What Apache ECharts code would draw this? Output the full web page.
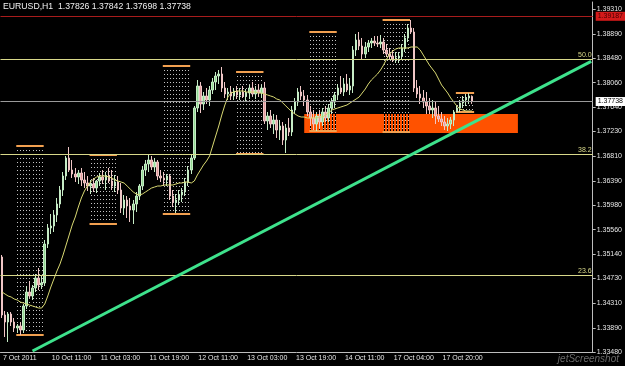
<!DOCTYPE html>
<html>
<head>
<meta charset="utf-8">
<script src="https://cdn.jsdelivr.net/npm/echarts@6/dist/echarts.min.js"></script>
<style>
  html, body { margin: 0; padding: 0; background: #000; }
  #chart { width: 625px; height: 366px; }
</style>
</head>
<body>
<div id="chart"></div>
<script>
const title = "EURUSD,H1  1.37826 1.37842 1.37698 1.37738";

// hourly bars, each [open, close, low, high]
const bars = [
  [1.35095,1.34109,1.34058,1.35129],[1.34109,1.33990,1.33735,1.34177],[1.33990,1.34126,1.33650,1.34160],
  [1.34126,1.33990,1.33922,1.34160],[1.33990,1.33888,1.33820,1.34058],[1.33888,1.33922,1.33803,1.33956],
  [1.33922,1.33854,1.33769,1.33990],[1.33854,1.34262,1.33803,1.34296],[1.34262,1.34500,1.34211,1.34602],
  [1.34500,1.34432,1.34398,1.34687],[1.34432,1.34568,1.34364,1.34619],[1.34568,1.34738,1.34500,1.34806],
  [1.34738,1.34619,1.34534,1.34908],[1.34619,1.34653,1.34551,1.34772],[1.34653,1.35316,1.34602,1.35384],
  [1.35316,1.35588,1.35248,1.35656],[1.35588,1.35622,1.35486,1.35826],[1.35622,1.35809,1.35520,1.35894],
  [1.35809,1.35996,1.35690,1.36098],[1.35996,1.36234,1.35928,1.36302],[1.36234,1.36472,1.36132,1.36540],
  [1.36472,1.36778,1.36404,1.36812],[1.36778,1.36574,1.36540,1.36965],[1.36574,1.36506,1.36438,1.36744],
  [1.36506,1.36455,1.36370,1.36608],[1.36455,1.36523,1.36336,1.36574],[1.36523,1.36404,1.36302,1.36608],
  [1.36404,1.36353,1.36268,1.36540],[1.36353,1.36302,1.36217,1.36472],[1.36302,1.36336,1.36166,1.36404],
  [1.36336,1.36268,1.36200,1.36438],[1.36268,1.36387,1.36183,1.36404],[1.36387,1.36455,1.36302,1.36523],
  [1.36455,1.36404,1.36336,1.36574],[1.36404,1.36472,1.36234,1.36540],[1.36472,1.36387,1.36353,1.36608],
  [1.36387,1.36302,1.36234,1.36574],[1.36302,1.36370,1.36200,1.36489],[1.36370,1.36234,1.36166,1.36472],
  [1.36234,1.35928,1.35843,1.36353],[1.35928,1.36064,1.35809,1.36149],[1.36064,1.35962,1.35758,1.36132],
  [1.35962,1.35894,1.35690,1.36098],[1.35894,1.35996,1.35656,1.36064],[1.35996,1.36132,1.35860,1.36200],
  [1.36132,1.36302,1.36064,1.36336],[1.36302,1.36574,1.36234,1.36642],[1.36574,1.36676,1.36472,1.36744],
  [1.36676,1.36744,1.36540,1.36829],[1.36744,1.36625,1.36574,1.36812],[1.36625,1.36710,1.36540,1.36778],
  [1.36710,1.36472,1.36404,1.36744],[1.36472,1.36438,1.36370,1.36574],[1.36438,1.36404,1.36302,1.36540],
  [1.36404,1.36472,1.36302,1.36506],[1.36472,1.36132,1.36064,1.36506],[1.36132,1.36030,1.35945,1.36234],
  [1.36030,1.36064,1.35843,1.36166],[1.36064,1.36149,1.35979,1.36234],[1.36149,1.36200,1.36030,1.36268],
  [1.36200,1.36370,1.36132,1.36438],[1.36370,1.36574,1.36302,1.36642],[1.36574,1.36778,1.36506,1.36829],
  [1.36778,1.37628,1.36744,1.37662],[1.37628,1.38002,1.37560,1.38104],[1.38002,1.37696,1.37543,1.38070],
  [1.37696,1.37832,1.37594,1.37900],[1.37832,1.37764,1.37696,1.37968],[1.37764,1.37934,1.37662,1.38002],
  [1.37934,1.38070,1.37866,1.38138],[1.38070,1.38172,1.37934,1.38240],[1.38172,1.38206,1.38036,1.38274],
  [1.38206,1.37968,1.37900,1.38325],[1.37968,1.37866,1.37798,1.38070],[1.37866,1.37900,1.37764,1.37968],
  [1.37900,1.37832,1.37764,1.38002],[1.37832,1.37917,1.37764,1.37968],[1.37917,1.37849,1.37781,1.38002],
  [1.37849,1.37900,1.37764,1.37968],[1.37900,1.37832,1.37798,1.38002],[1.37832,1.37883,1.37747,1.37951],
  [1.37883,1.37968,1.37781,1.38019],[1.37968,1.37866,1.37832,1.38070],[1.37866,1.37934,1.37781,1.38002],
  [1.37934,1.37883,1.37815,1.38036],[1.37883,1.37968,1.37798,1.38019],[1.37968,1.37407,1.37356,1.38070],
  [1.37407,1.37492,1.37254,1.37560],[1.37492,1.37356,1.37288,1.37594],[1.37356,1.37424,1.37186,1.37526],
  [1.37424,1.37254,1.37118,1.37509],[1.37254,1.37322,1.37084,1.37424],[1.37322,1.37084,1.36999,1.37390],
  [1.37084,1.37288,1.36863,1.37356],[1.37288,1.37220,1.37152,1.37458],[1.37220,1.37594,1.37152,1.37662],
  [1.37594,1.37730,1.37526,1.37798],[1.37730,1.37900,1.37662,1.37968],[1.37900,1.37832,1.37764,1.38002],
  [1.37832,1.37764,1.37662,1.37934],[1.37764,1.37560,1.37492,1.37849],[1.37560,1.37458,1.37322,1.37662],
  [1.37458,1.37356,1.37254,1.37594],[1.37356,1.37492,1.37237,1.37560],[1.37492,1.37390,1.37288,1.37594],
  [1.37390,1.37560,1.37322,1.37628],[1.37560,1.37458,1.37390,1.37662],[1.37458,1.37628,1.37390,1.37696],
  [1.37628,1.37730,1.37526,1.37798],[1.37730,1.37849,1.37628,1.37900],[1.37849,1.37968,1.37764,1.38036],
  [1.37968,1.37900,1.37866,1.38172],[1.37900,1.38036,1.37832,1.38138],[1.38036,1.37934,1.37900,1.38206],
  [1.37934,1.38002,1.37849,1.38138],[1.38002,1.38614,1.37883,1.38682],[1.38614,1.38784,1.38512,1.38886],
  [1.38784,1.38682,1.38614,1.38920],[1.38682,1.38546,1.38444,1.38818],[1.38546,1.38665,1.38478,1.38750],
  [1.38665,1.38733,1.38580,1.38784],[1.38733,1.38767,1.38648,1.38818],[1.38767,1.38733,1.38682,1.38852],
  [1.38733,1.38716,1.38665,1.38852],[1.38716,1.38750,1.38648,1.38869],[1.38750,1.38614,1.38546,1.38818],
  [1.38614,1.38546,1.38495,1.38716],[1.38546,1.38512,1.38444,1.38648],[1.38512,1.38461,1.38410,1.38614],
  [1.38461,1.38478,1.38393,1.38580],[1.38478,1.38512,1.38393,1.38580],[1.38512,1.38648,1.38444,1.38716],
  [1.38648,1.38818,1.38580,1.38886],[1.38818,1.38988,1.38750,1.39056],[1.38988,1.38920,1.38886,1.39124],
  [1.38920,1.37968,1.37900,1.38988],[1.37968,1.37866,1.37798,1.38104],[1.37866,1.37798,1.37696,1.38002],
  [1.37798,1.37730,1.37628,1.37934],[1.37730,1.37662,1.37526,1.37900],[1.37662,1.37594,1.37526,1.37798],
  [1.37594,1.37628,1.37458,1.37764],[1.37628,1.37492,1.37356,1.37730],[1.37492,1.37441,1.37390,1.37662],
  [1.37441,1.37390,1.37322,1.37560],[1.37390,1.37322,1.37254,1.37492],[1.37322,1.37356,1.37237,1.37458],
  [1.37356,1.37424,1.37271,1.37475],[1.37424,1.37560,1.37322,1.37594],[1.37560,1.37628,1.37560,1.37662],
  [1.37628,1.37713,1.37560,1.37764],[1.37713,1.37764,1.37628,1.37832],[1.37764,1.37798,1.37662,1.37866],
  [1.37798,1.37832,1.37696,1.37883],[1.37826,1.37738,1.37698,1.37842]
];

// yellow moving average
const ma = [
  1.34500,1.34466,1.34432,1.34415,1.34381,1.34364,1.34330,1.34313,1.34296,1.34279,
  1.34262,1.34245,1.34228,1.34228,1.34296,1.34432,1.34585,1.34721,1.34857,1.34976,
  1.35129,1.35299,1.35469,1.35639,1.35775,1.35945,1.36098,1.36217,1.36302,1.36370,
  1.36421,1.36455,1.36472,1.36472,1.36472,1.36455,1.36438,1.36404,1.36387,1.36370,
  1.36353,1.36302,1.36251,1.36200,1.36166,1.36149,1.36166,1.36200,1.36234,1.36268,
  1.36285,1.36302,1.36302,1.36319,1.36319,1.36319,1.36319,1.36336,1.36353,1.36353,
  1.36370,1.36370,1.36353,1.36387,1.36489,1.36574,1.36659,1.36727,1.36812,1.36982,
  1.37152,1.37322,1.37509,1.37679,1.37815,1.37883,1.37900,1.37917,1.37917,1.37917,
  1.37900,1.37900,1.37900,1.37900,1.37883,1.37883,1.37866,1.37849,1.37832,1.37815,
  1.37781,1.37764,1.37713,1.37662,1.37611,1.37560,1.37526,1.37492,1.37475,1.37475,
  1.37458,1.37458,1.37458,1.37458,1.37475,1.37475,1.37509,1.37543,1.37594,1.37611,
  1.37628,1.37645,1.37662,1.37679,1.37713,1.37747,1.37781,1.37815,1.37883,1.37951,
  1.38036,1.38104,1.38155,1.38206,1.38274,1.38359,1.38461,1.38546,1.38597,1.38631,
  1.38648,1.38648,1.38648,1.38648,1.38665,1.38665,1.38665,1.38614,1.38529,1.38444,
  1.38359,1.38291,1.38223,1.38121,1.38019,1.37951,1.37883,1.37798,1.37730,1.37662,
  1.37611,1.37594,1.37577,1.37577,1.37577
];

const slotCount = 194; // bars plus the empty space MT4 leaves on the right

const timeTickAt = [0, 16, 32, 48, 64, 80, 96, 112, 128, 144];
const timeTickText = ["7 Oct 2011", "10 Oct 11:00", "11 Oct 03:00", "11 Oct 19:00", "12 Oct 11:00",
  "13 Oct 03:00", "13 Oct 19:00", "14 Oct 11:00", "17 Oct 04:00", "17 Oct 20:00"];

const priceTicks = [1.39310, 1.38890, 1.38480, 1.38060, 1.37640, 1.37230, 1.36810, 1.36390,
  1.35980, 1.35560, 1.35140, 1.34730, 1.34310, 1.33890, 1.33480];

// daily boxes: first bar, last bar, day high, day low
const dayBoxes = [
  [5, 13, 1.36982, 1.33769],
  [29, 37, 1.36829, 1.35656],
  [53, 61, 1.38342, 1.35826],
  [77, 85, 1.38240, 1.36846],
  [101, 109, 1.38920, 1.37237],
  [125, 133, 1.39124, 1.37220],
  [149, 154, 1.37883, 1.37560]
];

const fibLevels = [1.38452, 1.36835, 1.34780];
const fibNames = ["50.0", "38.2", "23.6"];
const alertPrice = 1.39187;
const bidPrice = 1.37738;
const zoneFrom = [99, 1.37526];
const zoneTo = [169, 1.37203];
const trendFrom = [10, 1.33497];
const trendTo = [193, 1.38422];

const cats = [];
for (let i = 0; i < slotCount; i++) cats.push(String(i));

const font = "Liberation Sans";
const fibColor = "#d8d88a";

function drawBox(params, api) {
  const s = api.value(0), e = api.value(1), hi = api.value(2), lo = api.value(3);
  const kids = [];
  for (let j = s; j <= e; j++) {
    const a = api.coord([j, hi]);
    const b = api.coord([j, lo]);
    const x = Math.round(a[0]) + 0.5;
    kids.push({ type: "line", shape: { x1: x, y1: a[1], x2: x, y2: b[1] },
      style: { stroke: "#000", lineWidth: 1 } });
    kids.push({ type: "line", shape: { x1: x, y1: a[1], x2: x, y2: b[1] },
      style: { stroke: "#c4c4c4", lineWidth: 1, lineDash: [1, 3] } });
  }
  const left = api.coord([s, hi])[0] - 1;
  const right = api.coord([e, hi])[0] + 2;
  [hi, lo].forEach((v) => {
    const y = Math.round(api.coord([s, v])[1]);
    kids.push({ type: "line", shape: { x1: left, y1: y, x2: right, y2: y },
      style: { stroke: "#f2a050", lineWidth: 2 } });
  });
  return { type: "group", children: kids };
}

const fibLines = fibLevels.map((v, k) => ({
  yAxis: v,
  lineStyle: { color: fibColor, width: 1, type: "solid" },
  label: { show: true, position: "insideEndTop", formatter: fibNames[k], color: fibColor,
    fontSize: 7, fontFamily: font, distance: 1 }
}));

const chart = echarts.init(document.getElementById("chart"));

chart.setOption({
  backgroundColor: "#000",
  animation: false,
  grid: { left: 0, right: 32, top: 2, bottom: 14 },
  graphic: [
    { type: "text", left: 3, top: 2,
      style: { text: title, fill: "#f0f0f0", font: "8.7px " + font } },
    { type: "text", right: 6, bottom: 2,
      style: { text: "jetScreenshot", fill: "#6a6a6a", font: "italic 10px " + font } }
  ],
  xAxis: {
    type: "category",
    data: cats,
    boundaryGap: true,
    axisLine: { lineStyle: { color: "#bdbdbd", width: 1 } },
    axisTick: {
      alignWithLabel: true,
      length: 3,
      interval: (i) => timeTickAt.includes(i),
      lineStyle: { color: "#bdbdbd" }
    },
    axisLabel: {
      interval: (i) => timeTickAt.includes(i),
      formatter: (v, i) => timeTickText[timeTickAt.indexOf(i)] || "",
      align: "left",
      padding: [0, 0, 0, 1],
      margin: 3,
      color: "#e6e6e6",
      fontSize: 7,
      fontFamily: font
    },
    splitLine: { show: false }
  },
  yAxis: {
    type: "value",
    position: "right",
    min: 1.3348,
    max: 1.3943,
    axisLine: { show: true, lineStyle: { color: "#bdbdbd", width: 1 } },
    axisTick: { show: true, customValues: priceTicks, length: 3, lineStyle: { color: "#bdbdbd" } },
    axisLabel: {
      customValues: priceTicks,
      formatter: (v) => v.toFixed(5),
      color: "#e6e6e6",
      fontSize: 7,
      fontFamily: font,
      margin: 4
    },
    splitLine: { show: false }
  },
  series: [
    {
      type: "custom",
      z: 2,
      renderItem: drawBox,
      encode: { x: [0, 1], y: [2, 3] },
      data: dayBoxes,
      silent: true
    },
    {
      type: "candlestick",
      z: 3,
      data: bars,
      barWidth: 2,
      silent: true,
      itemStyle: {
        color: "#92d892",
        color0: "#e29c9c",
        borderColor: "#c6ecc6",
        borderColor0: "#f0c6c6",
        borderWidth: 1
      },
      markArea: {
        silent: true,
        z: 1,
        itemStyle: { color: "#ff5200", opacity: 1 },
        data: [[{ coord: zoneFrom }, { coord: zoneTo }]]
      },
      markLine: {
        silent: true,
        precision: 5,
        symbol: ["none", "none"],
        data: [
          ...fibLines,
          {
            yAxis: alertPrice,
            lineStyle: { color: "#a81c1c", width: 1, type: "solid" },
            label: { show: true, position: "end", formatter: alertPrice.toFixed(5),
              backgroundColor: "#d41a1a", color: "#4a0000", padding: [1, 2],
              fontSize: 7, fontFamily: font, distance: 3 }
          },
          {
            yAxis: bidPrice,
            lineStyle: { color: "#9a9a9a", width: 1, type: "solid" },
            label: { show: true, position: "end", formatter: bidPrice.toFixed(5),
              backgroundColor: "#ffffff", color: "#000", padding: [1, 2],
              fontSize: 7, fontFamily: font, distance: 3 }
          },
          [
            { coord: trendFrom, lineStyle: { color: "#3ee28c", width: 3, type: "solid" }, label: { show: false } },
            { coord: trendTo }
          ]
        ]
      }
    },
    {
      type: "line",
      z: 4,
      data: ma,
      showSymbol: false,
      silent: true,
      lineStyle: { color: "#d8d872", width: 1 }
    }
  ]
});
</script>
</body>
</html>
